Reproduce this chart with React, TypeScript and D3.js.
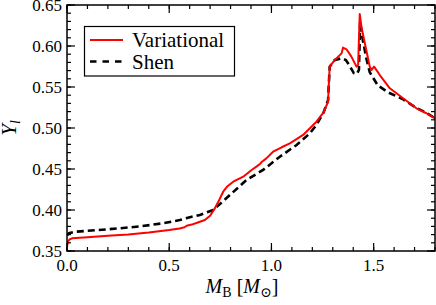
import { useEffect, useRef } from "react"
import * as d3 from "d3"

// baryon mass M_B [M_sun] vs lepton fraction Y_l
const variationalX = [0.0, 0.004, 0.012, 0.025, 0.1, 0.2, 0.3, 0.4, 0.5, 0.55, 0.575, 0.585, 0.61, 0.64, 0.674, 0.7, 0.723, 0.745, 0.764, 0.785, 0.813, 0.84, 0.862, 0.903, 0.93, 0.945, 0.952, 0.975, 1.008, 1.05, 1.09, 1.155, 1.22, 1.255, 1.277, 1.281, 1.285, 1.31, 1.343, 1.35, 1.367, 1.391, 1.416, 1.424, 1.432, 1.44, 1.457, 1.481, 1.489, 1.502, 1.53, 1.579, 1.644, 1.709, 1.758, 1.8]
const variationalY = [0.355, 0.361, 0.364, 0.3655, 0.3668, 0.3685, 0.3702, 0.3725, 0.3755, 0.3775, 0.379, 0.3808, 0.3822, 0.3848, 0.3878, 0.393, 0.402, 0.4125, 0.4223, 0.429, 0.4345, 0.438, 0.4406, 0.4488, 0.4535, 0.4565, 0.4585, 0.463, 0.4711, 0.4765, 0.4813, 0.4915, 0.5077, 0.519, 0.532, 0.555, 0.5748, 0.583, 0.591, 0.598, 0.596, 0.587, 0.5748, 0.577, 0.639, 0.6235, 0.603, 0.5748, 0.5707, 0.5748, 0.5646, 0.5484, 0.5362, 0.524, 0.518, 0.5118]

const shenX = [0.0, 0.01, 0.039, 0.15, 0.25, 0.35, 0.469, 0.552, 0.601, 0.65, 0.715, 0.797, 0.878, 0.959, 1.041, 1.123, 1.188, 1.22, 1.255, 1.277, 1.281, 1.285, 1.31, 1.343, 1.364, 1.383, 1.403, 1.418, 1.428, 1.434, 1.447, 1.466, 1.481, 1.52, 1.57, 1.644, 1.709, 1.758, 1.8]
const shenY = [0.369, 0.3718, 0.3735, 0.3755, 0.3775, 0.3798, 0.3838, 0.3878, 0.3912, 0.394, 0.4, 0.4183, 0.4366, 0.4488, 0.465, 0.4793, 0.4935, 0.5037, 0.519, 0.534, 0.555, 0.5748, 0.583, 0.585, 0.583, 0.5756, 0.567, 0.566, 0.571, 0.63, 0.607, 0.583, 0.568, 0.552, 0.5435, 0.535, 0.5245, 0.5185, 0.512]

const xMajor = [0.0, 0.5, 1.0, 1.5]
const xMinor = d3.range(0, 1.8001, 0.1)
const yMajor = [0.35, 0.4, 0.45, 0.5, 0.55, 0.6, 0.65]
const yMinor = d3.range(0.35, 0.6501, 0.01)

const legendItems = [
  { label: "Variational", color: "#ff0000", dash: "none", width: 2 },
  { label: "Shen", color: "#000000", dash: "6.5,6", width: 2.6 },
]

const font = '"Liberation Serif", "DejaVu Serif", serif'

export default function App() {
  const svgRef = useRef<SVGSVGElement>(null)

  useEffect(() => {
    if (!svgRef.current) return
    const svg = d3.select(svgRef.current)
    svg.selectAll("*").remove()

    const left = 67
    const right = 435
    const top = 5
    const bottom = 251

    const x = d3.scaleLinear().domain([0, 1.8]).range([left, right])
    const y = d3.scaleLinear().domain([0.35, 0.65]).range([bottom, top])

    const defs = svg.append("defs")
    defs.append("clipPath").attr("id", "plot-clip")
      .append("rect").attr("x", left).attr("y", top).attr("width", right - left).attr("height", bottom - top)

    const line = d3.line<[number, number]>().x((d) => x(d[0])).y((d) => y(d[1]))

    const plot = svg.append("g").attr("clip-path", "url(#plot-clip)")

    plot.append("path")
      .datum(shenX.map((v, i) => [v, shenY[i]] as [number, number]))
      .attr("d", line)
      .attr("fill", "none")
      .attr("stroke", "#000")
      .attr("stroke-width", 2.6)
      .attr("stroke-dasharray", "7,4")

    plot.append("path")
      .datum(variationalX.map((v, i) => [v, variationalY[i]] as [number, number]))
      .attr("d", line)
      .attr("fill", "none")
      .attr("stroke", "#ff0000")
      .attr("stroke-width", 2)
      .attr("stroke-linejoin", "round")

    // ticks on all sides, pointing inward
    const ticks = svg.append("g").attr("stroke", "#000").attr("stroke-width", 1.2)
    const tick = (x1: number, y1: number, x2: number, y2: number) =>
      ticks.append("line").attr("x1", x1).attr("y1", y1).attr("x2", x2).attr("y2", y2)

    xMinor.forEach((v) => {
      tick(x(v), bottom, x(v), bottom - 4)
      tick(x(v), top, x(v), top + 4)
    })
    xMajor.forEach((v) => {
      tick(x(v), bottom, x(v), bottom - 8)
      tick(x(v), top, x(v), top + 8)
    })
    yMinor.forEach((v) => {
      tick(left, y(v), left + 4, y(v))
      tick(right, y(v), right - 4, y(v))
    })
    yMajor.forEach((v) => {
      tick(left, y(v), left + 8, y(v))
      tick(right, y(v), right - 8, y(v))
    })

    svg.append("rect")
      .attr("x", left).attr("y", top)
      .attr("width", right - left).attr("height", bottom - top)
      .attr("fill", "none").attr("stroke", "#000").attr("stroke-width", 1.5)

    // tick labels
    svg.append("g").selectAll("text").data(xMajor).join("text")
      .attr("x", (d) => x(d)).attr("y", 271)
      .attr("text-anchor", "middle")
      .style("font-family", font).attr("font-size", 17)
      .text((d) => d.toFixed(1))

    svg.append("g").selectAll("text").data(yMajor).join("text")
      .attr("x", 62).attr("y", (d) => y(d) + 6)
      .attr("text-anchor", "end")
      .style("font-family", font).attr("font-size", 17)
      .text((d) => d.toFixed(2))

    // axis titles
    const xt = svg.append("text")
      .attr("x", 242).attr("y", 293)
      .attr("text-anchor", "middle")
      .style("font-family", font).attr("font-size", 20)
    xt.append("tspan").attr("font-style", "italic").text("M")
    xt.append("tspan").attr("font-size", 14).attr("dy", 4).text("B")
    xt.append("tspan").attr("dy", -4).text(" [")
    xt.append("tspan").attr("font-style", "italic").text("M")
    xt.append("tspan").attr("font-size", 14).attr("dy", 4).text("⊙")
    xt.append("tspan").attr("dy", -4).text("]")

    const yt = svg.append("text")
      .attr("transform", "translate(16,128) rotate(-90)")
      .attr("text-anchor", "middle")
      .style("font-family", font).attr("font-size", 21)
      .attr("font-style", "italic")
    yt.append("tspan").text("Y")
    yt.append("tspan").attr("font-size", 14).attr("dy", 4).text("l")

    // legend
    const lg = svg.append("g")
    lg.append("rect")
      .attr("x", 84.5).attr("y", 26.5).attr("width", 150).attr("height", 49.5)
      .attr("fill", "#fff").attr("stroke", "#000").attr("stroke-width", 1.2)
    legendItems.forEach((d, i) => {
      const ly = 40 + i * 21.5
      lg.append("line")
        .attr("x1", 90).attr("x2", 123).attr("y1", ly).attr("y2", ly)
        .attr("stroke", d.color).attr("stroke-width", d.width)
        .attr("stroke-dasharray", d.dash)
      lg.append("text")
        .attr("x", 132).attr("y", ly + 7)
        .style("font-family", font).attr("font-size", 21)
        .text(d.label)
    })
  }, [])

  return (
    <svg
      ref={svgRef}
      width={436}
      height={305}
      style={{ position: "absolute", left: 0, top: 0, background: "#fff" }}
    />
  )
}
